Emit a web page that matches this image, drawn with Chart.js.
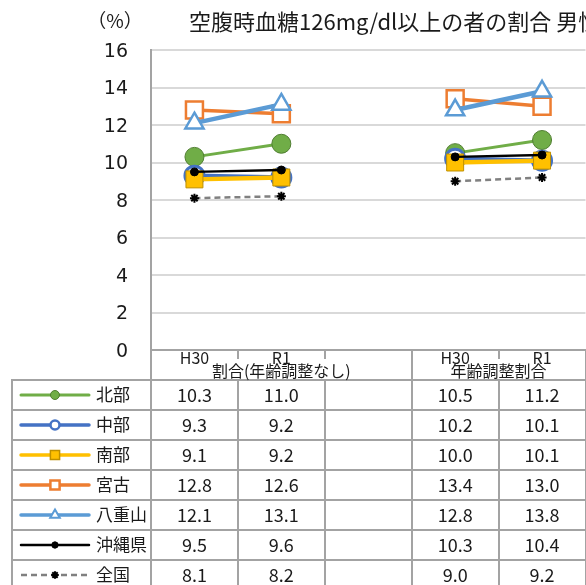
<!DOCTYPE html>
<html>
<head>
<meta charset="utf-8">
<script src="https://cdn.jsdelivr.net/npm/chart.js@4/dist/chart.umd.min.js"></script>
<style>
html,body{margin:0;padding:0;overflow:hidden;background:#fff;}
#wrap{position:relative;width:600px;height:585px;}
</style>
</head>
<body>
<div id="wrap"><canvas id="c" width="600" height="585"></canvas></div>
<script>
const titleText = '空腹時血糖126mg/dl以上の者の割合 男性';
const unitText = '（%）';
const categories = ['H30', 'R1', '', 'H30', 'R1'];
const groupLabels = ['割合(年齢調整なし)', '年齢調整割合'];
const groupSpans = [3, 2];
const regions = ['北部', '中部', '南部', '宮古', '八重山', '沖縄県', '全国'];
const hokubu  = [10.3, 11.0, null, 10.5, 11.2];
const chubu   = [9.3, 9.2, null, 10.2, 10.1];
const nanbu   = [9.1, 9.2, null, 10.0, 10.1];
const miyako  = [12.8, 12.6, null, 13.4, 13.0];
const yaeyama = [12.1, 13.1, null, 12.8, 13.8];
const okinawa = [9.5, 9.6, null, 10.3, 10.4];
const zenkoku = [8.1, 8.2, null, 9.0, 9.2];
const yTicks = [0, 2, 4, 6, 8, 10, 12, 14, 16];

const FONT = "'Noto Sans CJK JP', 'Noto Sans', sans-serif";
const NUMFONT = "'DejaVu Sans', 'Noto Sans CJK JP', sans-serif";
const TXT = '#1a1a1a';
const GRAYLINE = '#a3a3a3';

const seriesValues = [hokubu, chubu, nanbu, miyako, yaeyama, okinawa, zenkoku];
const styles = [
  {color:'#70AD47', width:3,   ps:'circle',   r:9.5, bg:'#70AD47', bc:'#507E32', bw:1,   lr:4.5, lbw:1},
  {color:'#4472C4', width:4.5, ps:'circle',   r:9.5, bg:'#ffffff', bc:'#4472C4', bw:3,   lr:4.5, lbw:2.5},
  {color:'#FFC000', width:4.5, ps:'rect',     r:12,  bg:'#FFC000', bc:'#BF9000', bw:1,   lr:6.5, lbw:1.5},
  {color:'#ED7D31', width:3.5, ps:'rect',     r:12,  bg:'#ffffff', bc:'#ED7D31', bw:2.5, lr:6.5, lbw:2.5},
  {color:'#5B9BD5', width:4.5, ps:'triangle', r:10.5,bg:'#ffffff', bc:'#5B9BD5', bw:2.5, lr:5.5, lbw:2},
  {color:'#000000', width:2.5, ps:'circle',   r:4,   bg:'#000000', bc:'#000000', bw:1,   lr:3.2, lbw:1},
  {color:'#808080', width:2.5, ps:'star',     r:4.5, bg:'#000000', bc:'#000000', bw:2,   lr:3.8, lbw:2, dash:[6,4]}
];

const datasets = regions.map((name, i) => {
  const s = styles[i];
  return {
    label: name,
    data: seriesValues[i],
    borderColor: s.color,
    borderWidth: s.width,
    borderDash: s.dash || [],
    pointStyle: s.ps,
    pointRadius: s.r,
    pointHoverRadius: s.r,
    pointBackgroundColor: s.bg,
    pointBorderColor: s.bc,
    pointBorderWidth: s.bw,
    spanGaps: false,
    tension: 0,
    fill: false,
    order: regions.length - 1 - i,
    clip: false
  };
});

const tablePlugin = {
  id: 'tablePlugin',
  afterDraw(chart) {
    const ctx = chart.ctx;
    const ca = chart.chartArea;
    const xs = chart.scales.x;
    const W = chart.width, H = chart.height;
    const cw = xs.getPixelForValue(1) - xs.getPixelForValue(0);
    const left = ca.left;
    const top = ca.bottom;
    const headH = 30, rowH = 30, tableLeft = 12;
    const n = categories.length;
    ctx.save();

    ctx.fillStyle = TXT;
    ctx.textBaseline = 'middle';
    ctx.font = '22px ' + FONT;
    ctx.textAlign = 'left';
    ctx.fillText(titleText, 189, 22);
    ctx.font = '19px ' + FONT;
    ctx.textAlign = 'center';
    ctx.fillText(unitText, 115, 21);

    ctx.strokeStyle = GRAYLINE;
    ctx.lineWidth = 2;
    ctx.beginPath();
    ctx.moveTo(left - 1, top); ctx.lineTo(W, top);
    for (let k = 0; k <= regions.length + 1; k++) {
      const y = top + headH + k * rowH;
      ctx.moveTo(tableLeft - 1, y); ctx.lineTo(W, y);
    }
    ctx.moveTo(tableLeft, top + headH - 1); ctx.lineTo(tableLeft, H);
    ctx.moveTo(left, top); ctx.lineTo(left, H);
    let groupEnds = [];
    let acc = 0;
    groupSpans.forEach(s => { acc += s; groupEnds.push(acc); });
    for (let i = 1; i <= n; i++) {
      const x = Math.round(left + i * cw);
      const full = groupEnds.includes(i);
      ctx.moveTo(x, full ? top : top + headH - 1); ctx.lineTo(x, H);
      if (!full) { ctx.moveTo(x, top); ctx.lineTo(x, top + 9); }
    }
    ctx.stroke();

    ctx.fillStyle = TXT;
    ctx.textAlign = 'center';
    ctx.font = '16px ' + FONT;
    categories.forEach((c, i) => {
      if (c) ctx.fillText(c, xs.getPixelForValue(i), top + 8);
    });
    ctx.font = '16px ' + FONT;
    let start = 0;
    groupLabels.forEach((g, gi) => {
      const span = groupSpans[gi];
      const cx = left + (start + span / 2) * cw;
      ctx.fillText(g, cx, top + 21);
      start += span;
    });

    regions.forEach((name, r) => {
      const s = styles[r];
      const yc = top + headH + r * rowH + rowH / 2;
      ctx.save();
      ctx.strokeStyle = s.color;
      ctx.lineWidth = Math.min(s.width, 3.5);
      ctx.lineCap = s.dash ? 'butt' : 'round';
      ctx.setLineDash(s.dash ? [6, 4] : []);
      ctx.beginPath();
      ctx.moveTo(21, yc); ctx.lineTo(89, yc);
      ctx.stroke();
      ctx.setLineDash([]);
      ctx.fillStyle = s.bg;
      ctx.strokeStyle = s.bc;
      ctx.lineWidth = s.lbw;
      Chart.helpers.drawPoint(ctx, {pointStyle: s.ps, rotation: 0, radius: s.lr, borderWidth: s.lbw}, 55, yc);
      ctx.restore();
      ctx.fillStyle = TXT;
      ctx.textAlign = 'left';
      ctx.font = '17px ' + FONT;
      ctx.fillText(name, 96, yc);
      ctx.textAlign = 'center';
      ctx.font = '18px ' + FONT;
      seriesValues[r].forEach((v, i) => {
        if (v !== null && v !== undefined) ctx.fillText(v.toFixed(1), xs.getPixelForValue(i), yc);
      });
    });
    ctx.restore();
  }
};

new Chart(document.getElementById('c'), {
  type: 'line',
  data: { labels: categories, datasets: datasets },
  options: {
    responsive: false,
    animation: false,
    devicePixelRatio: 1,
    layout: { padding: { left: 0, top: 50, right: 10.5, bottom: 235 } },
    plugins: { legend: { display: false }, title: { display: false }, tooltip: { enabled: false } },
    scales: {
      x: { type: 'category', offset: true, display: false },
      y: {
        min: 0, max: 16,
        afterBuildTicks: (scale) => { scale.ticks = yTicks.map(v => ({value: v})); },
        afterFit: (scale) => { scale.width = 151; },
        ticks: { font: { size: 19, family: NUMFONT }, color: TXT, padding: 23, labelOffset: 2 },
        grid: { color: '#d9d9d9', lineWidth: 2, drawTicks: false },
        border: { display: true, color: GRAYLINE, width: 2 }
      }
    }
  },
  plugins: [tablePlugin]
});
</script>
</body>
</html>
